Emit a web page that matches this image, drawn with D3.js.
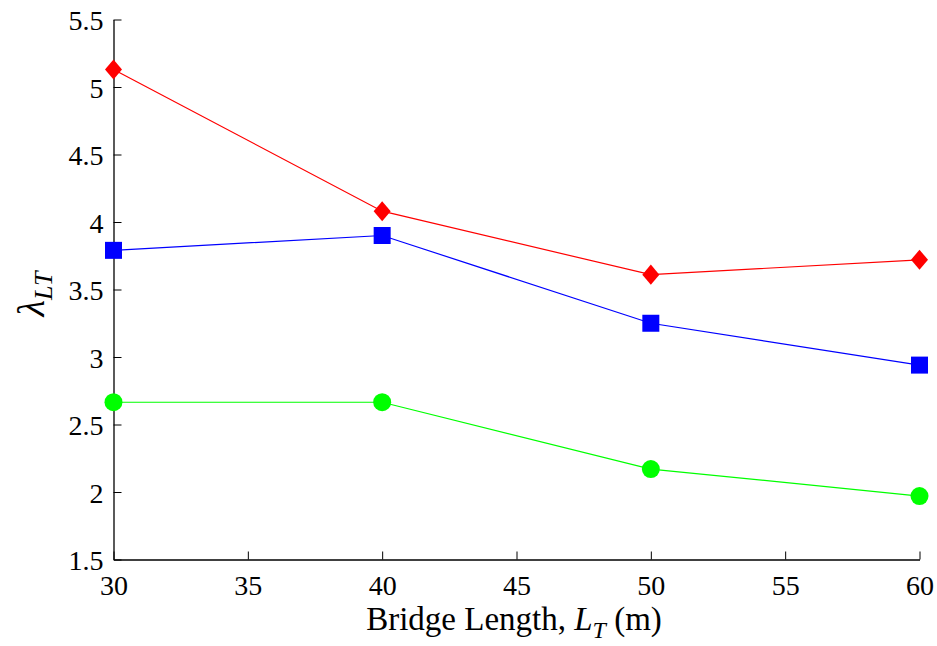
<!DOCTYPE html>
<html><head><meta charset="utf-8">
<script src="https://cdn.jsdelivr.net/npm/d3@7"></script>
<style>body{margin:0;background:#fff}svg{display:block}
svg text{font-family:'Liberation Serif','Times New Roman','DejaVu Serif',serif !important}</style>
</head><body><svg id="c" width="937" height="646"></svg>
<script>
const lengths = [30, 40, 50, 60];
const redValues = [5.13, 4.08, 3.61, 3.72];
const blueValues = [3.79, 3.90, 3.25, 2.94];
const greenValues = [2.665, 2.665, 2.17, 1.97];
const xTicks = [30, 35, 40, 45, 50, 55, 60];
const yTicks = [1.5, 2, 2.5, 3, 3.5, 4, 4.5, 5, 5.5];

const FONT = "'Liberation Serif','Times New Roman','DejaVu Serif',serif";
const svg = d3.select("#c");
const x = d3.scaleLinear().domain([30, 60]).range([113.5, 919.5]);
const y = d3.scaleLinear().domain([1.5, 5.5]).range([559.5, 19.5]);

const xAxis = svg.append("g").attr("transform", "translate(0,559.5)")
  .call(d3.axisBottom(x).tickValues(xTicks).tickSizeInner(-8).tickSizeOuter(0).tickPadding(16).tickFormat(d3.format("d")));
const yAxis = svg.append("g").attr("transform", "translate(113.5,0)")
  .call(d3.axisLeft(y).tickValues(yTicks).tickSizeInner(-8).tickSizeOuter(0).tickPadding(10).tickFormat(d => String(d)));
[xAxis, yAxis].forEach(g => {
  g.attr("font-family", FONT);
  g.select(".domain").attr("stroke", "#000").attr("stroke-width", 1.3);
  g.selectAll(".tick line").attr("stroke", "#000").attr("stroke-width", 1);
  g.selectAll("text").attr("font-size", 28).attr("font-family", FONT).attr("fill", "#000");
});
yAxis.selectAll("text").attr("dy", "0.36em");
xAxis.selectAll("text").attr("dy", "0.7em");

const wideDiamond = {
  draw(ctx, size) {
    const w = Math.sqrt(size) * 0.5, h = w * 1.18;
    ctx.moveTo(0, -h); ctx.lineTo(w, 0); ctx.lineTo(0, h); ctx.lineTo(-w, 0); ctx.closePath();
  }
};
const series = [
  {vals: redValues, color: "#ff0000", shape: wideDiamond, size: 290},
  {vals: blueValues, color: "#0000ff", shape: d3.symbolSquare, size: 289},
  {vals: greenValues, color: "#00ff00", shape: d3.symbolCircle, size: 254}
];
const line = d3.line().x(d => x(d[0])).y(d => y(d[1]));
series.forEach(s => {
  const pts = lengths.map((l, i) => [l, s.vals[i]]);
  svg.append("path").attr("d", line(pts)).attr("fill", "none").attr("stroke", s.color).attr("stroke-width", 1.2);
  svg.selectAll(null).data(pts).enter().append("path")
    .attr("d", d3.symbol().type(s.shape).size(s.size))
    .attr("transform", d => `translate(${x(d[0])},${y(d[1])})`)
    .attr("fill", s.color);
});

// x label
const xl = svg.append("text").attr("x", 514).attr("y", 630).attr("text-anchor", "middle").attr("font-size", 33).attr("font-family", FONT);
xl.append("tspan").text("Bridge Length, ");
xl.append("tspan").attr("font-style", "italic").text("L");
xl.append("tspan").attr("font-style", "italic").attr("font-size", 24).attr("dy", 8).text("T");
xl.append("tspan").attr("dy", -8).text(" (m)");

// y label
const yl = svg.append("text").attr("transform", "translate(44,294) rotate(-90)").attr("text-anchor", "middle").attr("font-size", 38).attr("font-family", FONT);
yl.append("tspan").attr("font-style", "italic").text("λ");
yl.append("tspan").attr("font-style", "italic").attr("font-size", 26).attr("dy", 8).text("LT");
</script></body></html>
